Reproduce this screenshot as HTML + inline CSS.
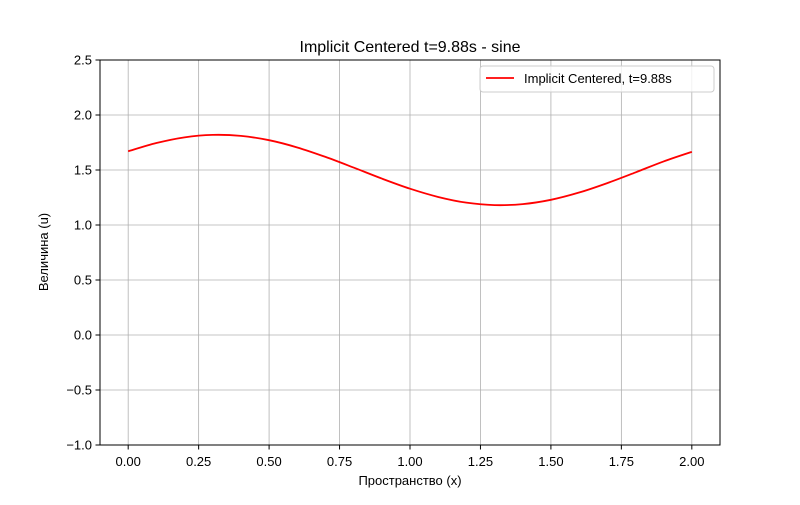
<!DOCTYPE html>
<html><head><meta charset="utf-8"><style>
body{margin:0;background:#fff;}
svg{font-family:"Liberation Sans","DejaVu Sans",sans-serif;}
</style></head><body>
<svg id="chart" width="800" height="500" xmlns="http://www.w3.org/2000/svg">
<rect width="800" height="500" fill="#fff"/>
<g id="grid"></g>
<g id="series"></g>
<rect x="100" y="60" width="620" height="385" fill="none" stroke="#000" stroke-width="1"/>
<g id="ticks"></g>
<text x="410" y="52" text-anchor="middle" font-size="16">Implicit Centered t=9.88s - sine</text>
<text x="410" y="485" text-anchor="middle" font-size="13">Пространство (x)</text>
<text transform="translate(48,252) rotate(-90)" text-anchor="middle" font-size="13">Величина (u)</text>
<g>
<rect x="480" y="66" width="234" height="26" rx="3" fill="#fff" fill-opacity="0.8" stroke="#ccc"/>
<line x1="486" y1="78" x2="514" y2="78" stroke="#ff0000" stroke-width="1.8"/>
<text x="524" y="83" font-size="13">Implicit Centered, t=9.88s</text>
</g>
</svg>
<script>
const xs=[0,0.1,0.2,0.3,0.4,0.5,0.6,0.7,0.8,0.9,1.0,1.1,1.2,1.3,1.4,1.5,1.6,1.7,1.8,1.9,2.0];
const us=[1.670,1.745,1.797,1.819,1.810,1.771,1.705,1.619,1.522,1.422,1.330,1.255,1.203,1.181,1.190,1.229,1.295,1.381,1.478,1.578,1.665];
const xTicks=[0,0.25,0.5,0.75,1.0,1.25,1.5,1.75,2.0];
const xTickLabels=["0.00","0.25","0.50","0.75","1.00","1.25","1.50","1.75","2.00"];
const yTicks=[-1,-0.5,0,0.5,1,1.5,2,2.5];
const yTickLabels=["−1.0","−0.5","0.0","0.5","1.0","1.5","2.0","2.5"];
const X=v=>100+(v+0.1)/2.2*620;
const Y=v=>445-(v+1)/3.5*385;
const NS="http://www.w3.org/2000/svg";
const grid=document.getElementById('grid'),ticks=document.getElementById('ticks'),series=document.getElementById('series');
function mk(t,a){const e=document.createElementNS(NS,t);for(const k in a)e.setAttribute(k,a[k]);return e;}
xTicks.forEach((v,i)=>{
 const g=mk('line',{x1:X(v),x2:X(v),y1:60,y2:445,stroke:'#b0b0b0','stroke-width':0.8});
 
 
 grid.appendChild(g);
 const t=mk('line',{x1:X(v),x2:X(v),y1:445,y2:449.5,stroke:'#000'});
 
 
 ticks.appendChild(t);
 const l=mk('text',{x:X(v),y:466,'text-anchor':'middle','font-size':13});
 
 
 l.textContent=xTickLabels[i];ticks.appendChild(l);
});
yTicks.forEach((v,i)=>{
 const g=mk('line',{x1:100,x2:720,y1:Y(v),y2:Y(v),stroke:'#b0b0b0','stroke-width':0.8});
 
 
 grid.appendChild(g);
 const t=mk('line',{x1:95.5,x2:100,y1:Y(v),y2:Y(v),stroke:'#000'});
 
 
 ticks.appendChild(t);
 const l=mk('text',{x:92,y:Y(v)+4.5,'text-anchor':'end','font-size':13});
 
 
 l.textContent=yTickLabels[i];ticks.appendChild(l);
});
const pts=xs.map((x,i)=>[X(x),Y(us[i])]);
let d='M'+pts[0][0]+','+pts[0][1];
for(let i=0;i<pts.length-1;i++){
 const p0=pts[Math.max(i-1,0)],p1=pts[i],p2=pts[i+1],p3=pts[Math.min(i+2,pts.length-1)];
 const c1=[p1[0]+(p2[0]-p0[0])/6,p1[1]+(p2[1]-p0[1])/6];
 const c2=[p2[0]-(p3[0]-p1[0])/6,p2[1]-(p3[1]-p1[1])/6];
 d+=' C'+c1[0]+','+c1[1]+' '+c2[0]+','+c2[1]+' '+p2[0]+','+p2[1];
}
const p=mk('path',{d:d,fill:'none',stroke:'#ff0000','stroke-width':1.8,'stroke-linejoin':'round'});


series.appendChild(p);
</script>
</body></html>
